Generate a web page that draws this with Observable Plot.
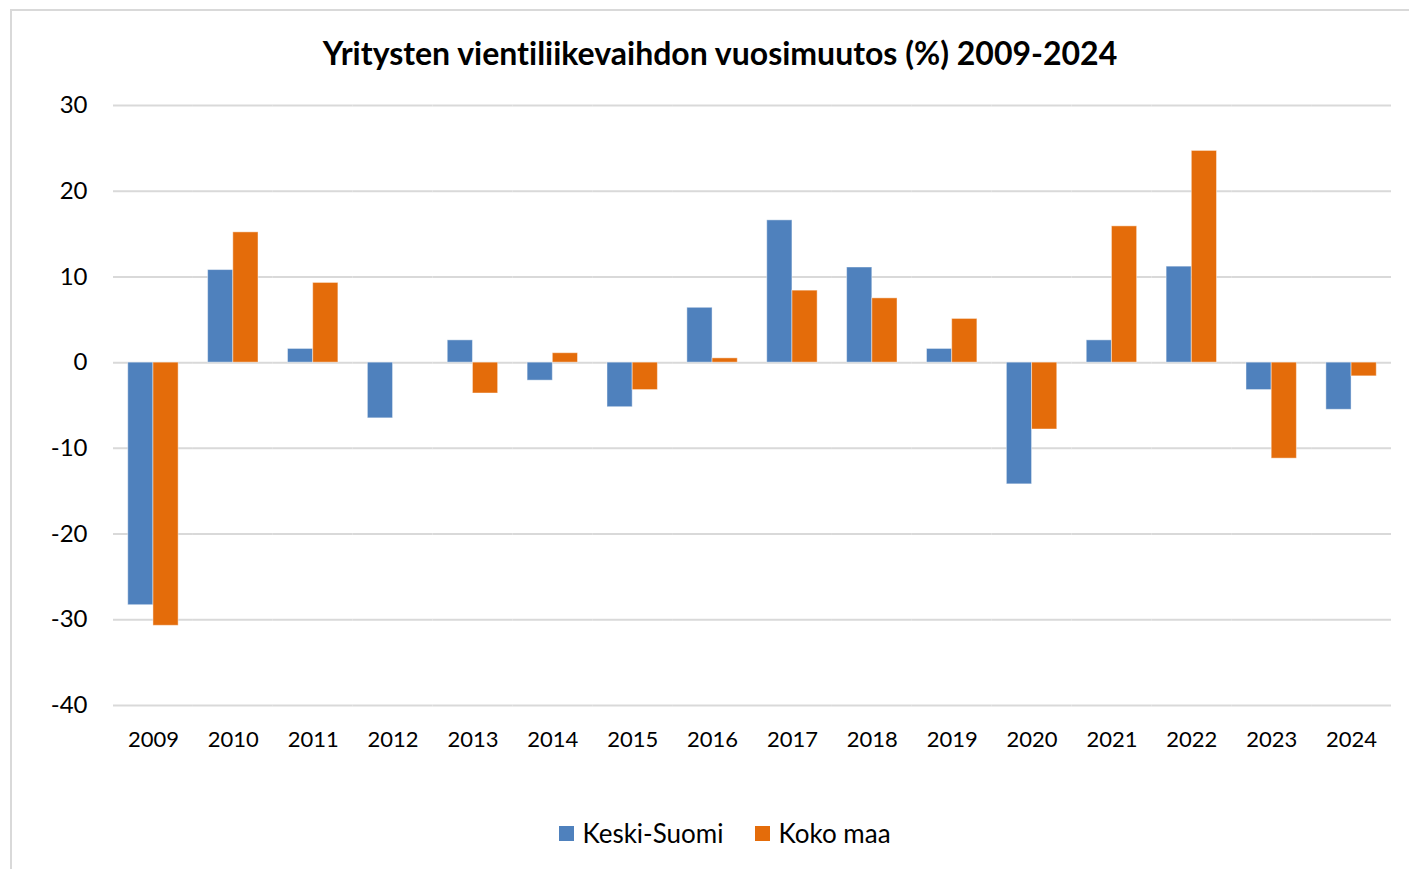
<!DOCTYPE html>
<html>
<head>
<meta charset="utf-8">
<script src="https://cdn.jsdelivr.net/npm/d3@7"></script>
<script src="https://cdn.jsdelivr.net/npm/@observablehq/plot@0.6"></script>
<style>
  html, body { margin: 0; padding: 0; background: #fff; overflow: hidden; }
  body { width: 1409px; height: 869px; position: relative; font-family: Lato, "Noto Sans", sans-serif; font-variant-ligatures: none; }
  #frame { position: absolute; left: 10px; top: 9px; width: 1420px; height: 900px; border: 2px solid #d9d9d9; box-sizing: border-box; }
  #title { position: absolute; left: 0; top: 33px; width: 1440px; text-align: center; font-size: 32px; font-weight: 700; color: #000; line-height: 40px; font-variant-ligatures: none; }
  #chart { position: absolute; left: 0; top: 80px; }
  #legend { position: absolute; left: 0; top: 815px; width: 1450px; display: flex; justify-content: center; align-items: center; gap: 32px; font-size: 26px; color: #000; line-height: 36px; }
  .item { display: flex; align-items: center; gap: 8px; }
  .sw { width: 15px; height: 15px; display: inline-block; }
</style>
</head>
<body>
<div id="frame"></div>
<div id="title">Yritysten vientiliikevaihdon vuosimuutos (%) 2009-2024</div>
<div id="chart"></div>
<div id="legend"></div>
<script>
const years = ["2009","2010","2011","2012","2013","2014","2015","2016","2017","2018","2019","2020","2021","2022","2023","2024"];
const keskiSuomi = [-28.3, 10.8, 1.6, -6.5, 2.6, -2.1, -5.2, 6.4, 16.6, 11.1, 1.6, -14.2, 2.6, 11.2, -3.2, -5.5];
const kokoMaa = [-30.7, 15.2, 9.3, 0, -3.6, 1.1, -3.2, 0.5, 8.4, 7.5, 5.1, -7.8, 15.9, 24.7, -11.2, -1.6];
const seriesNames = ["Keski-Suomi", "Koko maa"];
const seriesColors = ["#4F81BD", "#E46C0A"];
const yTicks = [-40, -30, -20, -10, 0, 10, 20, 30];

const data = years.flatMap((y, i) => [
  {year: y, series: seriesNames[0], value: keskiSuomi[i]},
  {year: y, series: seriesNames[1], value: kokoMaa[i]}
]);

const chart = Plot.plot({
  width: 1409,
  height: 685,
  marginLeft: 113,
  marginRight: 18,
  marginTop: 25,
  marginBottom: 60,
  style: {fontFamily: "Lato, 'Noto Sans', sans-serif", color: "#000", background: "transparent"},
  fx: {domain: years, padding: 0, round: false, label: null},
  x: {domain: seriesNames, paddingInner: 0, paddingOuter: 0.585, round: false, axis: null},
  y: {domain: [-40, 30], label: null},
  color: {domain: seriesNames, range: seriesColors},
  marks: [
    Plot.ruleY(yTicks, {stroke: "#d9d9d9", strokeWidth: 2, strokeOpacity: 1}),
    Plot.barY(data, {fx: "year", x: "series", y: "value", fill: "series", stroke: "#fff", strokeOpacity: 0.45, strokeWidth: 1}),
    Plot.axisY(yTicks, {tickSize: 0, tickPadding: 26, fontSize: 24, label: null, tickFormat: d => String(d)}),
    Plot.axisFx({anchor: "bottom", tickSize: 0, tickPadding: 26, fontSize: 22, label: null})
  ]
});
document.getElementById("chart").appendChild(chart);

const legend = document.getElementById("legend");
seriesNames.forEach((name, i) => {
  const item = document.createElement("div");
  item.className = "item";
  const sw = document.createElement("span");
  sw.className = "sw";
  sw.style.background = seriesColors[i];
  const label = document.createElement("span");
  label.textContent = name;
  item.appendChild(sw);
  item.appendChild(label);
  legend.appendChild(item);
});
</script>
</body>
</html>
